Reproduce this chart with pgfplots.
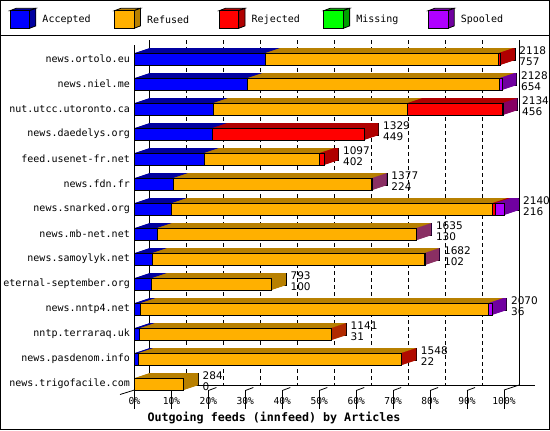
\documentclass[border=0pt]{standalone}
\usepackage{pgfplots}
\pgfplotsset{compat=1.18}
\usepackage{pgfplotstable}
\usepackage{fontspec}
\setmainfont{DejaVu Sans Mono}
\newfontfamily\numfont{DejaVu Sans}

\definecolor{accF}{RGB}{0,0,255}
\definecolor{accD}{RGB}{0,0,160}
\definecolor{refF}{RGB}{255,176,0}
\definecolor{refD}{RGB}{184,128,0}
\definecolor{rejF}{RGB}{255,0,0}
\definecolor{rejD}{RGB}{176,0,0}
\definecolor{misF}{RGB}{0,255,0}
\definecolor{misD}{RGB}{0,160,0}
\definecolor{spoF}{RGB}{176,0,255}
\definecolor{spoD}{RGB}{112,0,160}

\tikzset{lab/.style={anchor=west, align=left, inner sep=0pt, xshift=19bp, yshift=3bp,
    font=\numfont\fontsize{10.5bp}{11.2bp}\selectfont}}

\pgfplotstableread{
name acc ref rej mis spo tot
news.ortolo.eu 757 1351 10 0 0 2118
news.niel.me 654 1459 0 0 15 2128
nut.utcc.utoronto.ca 456 1124 550 0 4 2134
news.daedelys.org 449 0 880 0 0 1329
feed.usenet-fr.net 402 668 27 0 0 1097
news.fdn.fr 224 1150 0 0 3 1377
news.snarked.org 216 1856 18 0 50 2140
news.mb-net.net 130 1502 0 0 3 1635
news.samoylyk.net 102 1577 0 0 3 1682
eternal-september.org 100 693 0 0 0 793
news.nntp4.net 36 2013 0 0 21 2070
nntp.terraraq.uk 31 1107 3 0 0 1141
news.pasdenom.info 22 1522 4 0 0 1548
news.trigofacile.com 0 284 0 0 0 284
}\feeds

\pgfplotsset{base/.style={scale only axis, width=369.5bp, height=345bp,
  xmin=0, xmax=2140, ymin=-0.56, ymax=13.24, y dir=reverse,
  xbar stacked, bar width=12bp, anchor=south west, clip=false}}

\newcommand{\depthcopy}[2]{%
\begin{axis}[base, at={(134.5bp+#1bp, 40bp+#1bp/3)}, hide axis]
 \addplot[fill=accD, draw=#2, line width=1bp] table[x=acc, y expr=\coordindex]{\feeds};
 \addplot[fill=refD, draw=#2, line width=1bp] table[x=ref, y expr=\coordindex]{\feeds};
 \addplot[fill=rejD, draw=#2, line width=1bp] table[x=rej, y expr=\coordindex]{\feeds};
 \addplot[fill=misD, draw=#2, line width=1bp] table[x=mis, y expr=\coordindex]{\feeds};
 \addplot[fill=spoD, draw=#2, line width=1bp] table[x=spo, y expr=\coordindex]{\feeds};
\end{axis}}

\begin{document}
\begin{tikzpicture}[x=1bp,y=1bp]
\useasboundingbox (0,0) rectangle (550,430);
\fill[white] (0,0) rectangle (550,430);

% back plane: grid and walls
\begin{axis}[base, at={(149.5bp,45bp)}, axis line style={draw=none},
  xtick={214,428,...,1926}, xticklabels={}, ytick=\empty, major tick length=0,
  xmajorgrids, major grid style={black, line width=0.8bp, dash pattern=on 4bp off 3bp}]
 \addplot[draw=none, fill=none] coordinates {(0,0)};
 \draw[line width=0.8bp] (axis cs:0,-0.56) -- (axis cs:0,13.24);
 \draw[line width=0.8bp] (axis cs:2140,-0.56) -- (axis cs:2140,13.24);
\end{axis}
\draw[line width=0.8bp] (149.5,45) -- (535,45);
\draw[line width=0.8bp] (504,40) -- (519,45);
\draw[line width=0.8bp] (120,35.5) -- (134.5,40);
\foreach \k in {1,...,9}{
  \draw[line width=0.8bp] ({134.5+36.95*\k},39.5) -- ({134.5+36.95*\k+8},42.5);
}

% depth (top and side faces)
\depthcopy{15}{black}
\foreach \k in {14.5,14,...,0.5}{\depthcopy{\k}{none}}

% front faces
\begin{axis}[base, at={(134.5bp,40bp)}, axis line style={draw=none},
  ytick={0,...,13}, yticklabels from table={\feeds}{name},
  xtick={0,214,...,2140},
  xticklabels={0\%,10\%,20\%,30\%,40\%,50\%,60\%,70\%,80\%,90\%,100\%},
  major tick length=0,
  yticklabel style={font=\fontsize{10bp}{12bp}\selectfont, inner sep=0pt, anchor=east, xshift=-4.5bp},
  xticklabel style={font=\fontsize{9.6bp}{11bp}\selectfont, inner sep=0pt, anchor=base, yshift=-14.5bp}]
 \addplot[fill=accF, draw=black, line width=0.8bp] table[x=acc, y expr=\coordindex]{\feeds};
 \addplot[fill=refF, draw=black, line width=0.8bp] table[x=ref, y expr=\coordindex]{\feeds};
 \addplot[fill=rejF, draw=black, line width=0.8bp] table[x=rej, y expr=\coordindex]{\feeds};
 \addplot[fill=misF, draw=black, line width=0.8bp] table[x=mis, y expr=\coordindex]{\feeds};
 \addplot[fill=spoF, draw=black, line width=0.8bp] table[x=spo, y expr=\coordindex]{\feeds};
 \draw[line width=0.8bp] (axis cs:0,-0.56) -- (axis cs:0,13.24);
 \pgfplotsinvokeforeach{0,214,428,642,856,1070,1284,1498,1712,1926,2140}{
   \draw[line width=0.8bp] (axis cs:#1,13.24) -- ++(0,-5bp);}
 \node[lab] at (axis cs:2118,0) {2118\\757};
 \node[lab] at (axis cs:2128,1) {2128\\654};
 \node[lab] at (axis cs:2134,2) {2134\\456};
 \node[lab] at (axis cs:1329,3) {1329\\449};
 \node[lab] at (axis cs:1097,4) {1097\\402};
 \node[lab] at (axis cs:1377,5) {1377\\224};
 \node[lab] at (axis cs:2140,6) {2140\\216};
 \node[lab] at (axis cs:1635,7) {1635\\130};
 \node[lab] at (axis cs:1682,8) {1682\\102};
 \node[lab] at (axis cs:793,9) {793\\100};
 \node[lab] at (axis cs:2070,10) {2070\\36};
 \node[lab] at (axis cs:1141,11) {1141\\31};
 \node[lab] at (axis cs:1548,12) {1548\\22};
 \node[lab] at (axis cs:284,13) {284\\0};
\end{axis}

\node[font=\bfseries\fontsize{11.67bp}{14bp}\selectfont] at (274,12.3) {Outgoing feeds (innfeed) by Articles};

% legend
\draw[line width=1bp] (0,395) -- (550,395);
\foreach \j/\cf/\cd/\t in {0/accF/accD/Accepted,1/refF/refD/Refused,2/rejF/rejD/Rejected,3/misF/misD/Missing,4/spoF/spoD/Spooled}{
  \pgfmathsetmacro\xo{10+104.6*\j}
  \filldraw[fill=\cd, draw=black, line width=0.8bp] (\xo,419.3) -- (\xo+6.3,421.7) -- (\xo+25.8,421.7) -- (\xo+19.5,419.3) -- cycle;
  \filldraw[fill=\cd, draw=black, line width=0.8bp] (\xo+19.5,419.3) -- (\xo+25.8,421.7) -- (\xo+25.8,404.1) -- (\xo+19.5,401.7) -- cycle;
  \filldraw[fill=\cf, draw=black, line width=0.8bp] (\xo,401.7) rectangle (\xo+19.5,419.3);
  \node[anchor=west, inner sep=0pt, font=\fontsize{10bp}{12bp}\selectfont] at (\xo+32.3,410) {\t};
}
\draw[line width=1bp] (0.5,0.5) rectangle (549.5,429.5);
\end{tikzpicture}
\end{document}
